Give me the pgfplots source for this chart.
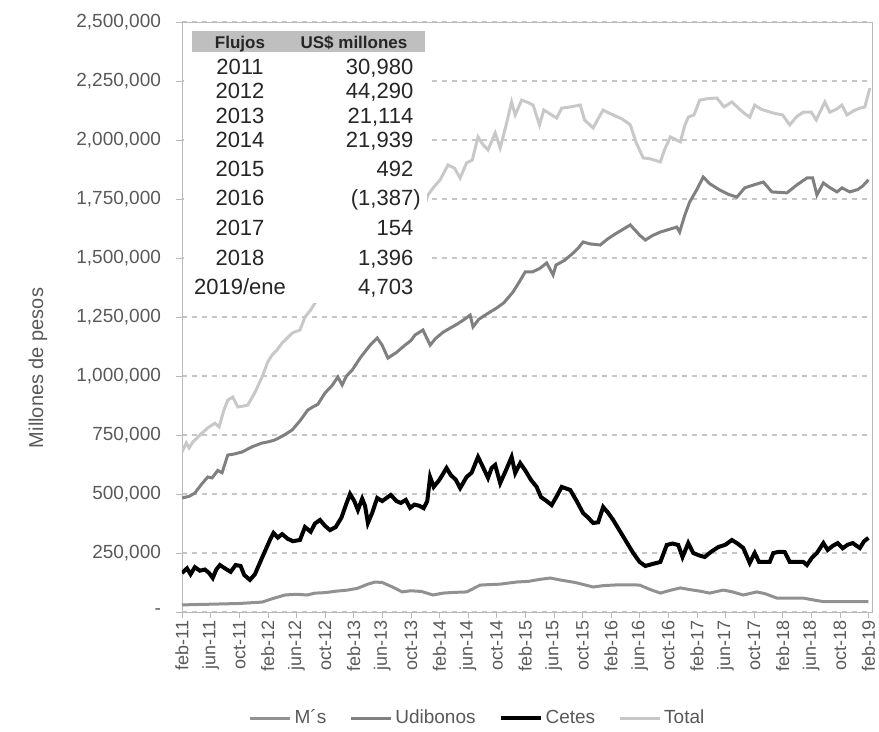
\documentclass[border=0pt]{standalone}
\usepackage{fontspec}
\setmainfont{Liberation Sans}
\usepackage{pgfplots}
\pgfplotsset{compat=1.18}
\definecolor{cms}{RGB}{145,145,145}
\definecolor{cudi}{RGB}{128,128,128}
\definecolor{ctot}{RGB}{200,200,200}
\definecolor{ctick}{RGB}{89,89,89}
\definecolor{chdr}{RGB}{191,191,191}
\definecolor{ctab}{RGB}{38,38,38}
\begin{document}
\begin{tikzpicture}
\begin{axis}[name=ax, scale only axis, width=345pt, height=295pt,
  xmin=0, xmax=96.5, ymin=0, ymax=2500,
  axis line style={draw=gray!55},
  ytick={0,250,...,2500},
  yticklabels={{-},{250,000},{500,000},{750,000},{1,000,000},{1,250,000},{1,500,000},{1,750,000},{2,000,000},{2,250,000},{2,500,000}},
  xtick={0,4,...,96},
  xticklabels={feb-11,jun-11,oct-11,feb-12,jun-12,oct-12,feb-13,jun-13,oct-13,feb-14,jun-14,oct-14,feb-15,jun-15,oct-15,feb-16,jun-16,oct-16,feb-17,jun-17,oct-17,feb-18,jun-18,oct-18,feb-19},
  x tick label style={rotate=90, anchor=east, font=\fontsize{9}{10}\selectfont, text=ctick, inner sep=1pt},
  y tick label style={font=\fontsize{9.5}{11}\selectfont, text=ctick, xshift=-4pt},
  ymajorgrids, grid style={dash pattern=on 2.5pt off 2.5pt, gray!45, line width=0.8pt},
  tick align=outside, tick pos=left, major tick length=3pt, tick style={gray!55},
  legend style={at={(0.429,-0.18)}, anchor=center, legend columns=4, draw=none,
    font=\fontsize{9.5}{11}\selectfont, text=ctick,
    /tikz/every even column/.append style={column sep=10pt},
    nodes={inner xsep=1.5pt}},
  legend image code/.code={\draw[#1] (0pt,0pt) -- (20pt,0pt);},
]
\addplot[cms, line width=1.5pt] coordinates {
(0,30)(4,33)(8,36)(9,38)(11.2,42)(12.5,55)(14.4,72)(16,75)(17.5,72)(18.6,80)(20,82)(21.5,88)(23.2,93)(24.5,100)(26,118)(27,127)(28,125)(29.5,105)(30.8,85)(32,90)(33.5,87)(35.1,72)(36.5,80)(38,83)(39.8,85)(41.7,114)(43,116)(44.5,118)(46.8,127)(48.5,130)(50,138)(51.5,144)(53,135)(55,125)(57.5,106)(59,112)(61,115)(63,115)(64,114)(65.5,95)(66.9,80)(68.3,92)(69.7,102)(71,95)(72.5,88)(73.8,80)(75.7,93)(77,85)(78.5,72)(80.4,85)(81.5,78)(83.2,59)(85,59)(86.9,59)(88.5,50)(89.7,44)(92,44)(96,44)
};
\addlegendentry{M´s}
\addplot[cudi, line width=1.5pt] coordinates {
(0,483)(1,490)(1.8,504)(2.7,540)(3.6,572)(4.2,568)(5,600)(5.6,590)(6.4,665)(7.4,670)(8.4,678)(9.8,700)(11.2,716)(12.2,722)(13,729)(14.2,748)(15.4,771)(16.5,810)(17.6,856)(18.3,869)(19,880)(20,928)(21,960)(21.8,996)(22.4,962)(23,1000)(23.8,1025)(25,1080)(26.3,1130)(27.3,1161)(28,1130)(28.8,1076)(30,1100)(31.2,1131)(32,1150)(32.6,1174)(33.2,1185)(33.7,1195)(34.7,1131)(35.5,1160)(36.5,1185)(37.5,1203)(38.5,1220)(39.5,1240)(40.3,1258)(40.7,1208)(41.5,1240)(42.5,1260)(44,1288)(45,1310)(46.3,1356)(47.2,1400)(48,1441)(49,1441)(50,1455)(51,1479)(51.9,1428)(52.3,1470)(53.5,1490)(54.7,1521)(55.5,1545)(56.1,1568)(57,1560)(58.5,1555)(59.5,1580)(60.5,1600)(61.6,1620)(62.7,1640)(64,1597)(64.8,1576)(65.8,1595)(66.9,1610)(68,1620)(69.2,1631)(69.6,1610)(70.3,1680)(71,1737)(72,1790)(72.9,1843)(73.8,1815)(75.2,1788)(76.4,1770)(77.6,1758)(78.7,1797)(80,1810)(81.3,1822)(82.5,1780)(83.5,1778)(84.6,1776)(86,1810)(87.4,1839)(88.2,1839)(88.8,1767)(89.7,1818)(90.5,1800)(91.6,1780)(92.3,1797)(93.4,1780)(94.5,1790)(95.2,1805)(96,1831)
};
\addlegendentry{Udibonos}
\addplot[black, line width=2pt] coordinates {
(0,165)(0.7,185)(1.2,160)(1.8,190)(2.5,175)(3.2,180)(3.8,165)(4.3,144)(4.8,180)(5.3,199)(6,185)(6.8,170)(7.5,199)(8.2,195)(8.7,157)(9.5,136)(10.2,160)(11.2,230)(12.3,305)(12.8,335)(13.4,315)(14,330)(14.8,310)(15.5,300)(16.5,305)(17.2,360)(18,340)(18.6,375)(19.3,390)(20,365)(20.7,347)(21.5,360)(22.3,400)(23,460)(23.5,500)(24.1,470)(24.6,432)(25.2,480)(25.6,450)(26,377)(26.6,420)(27.3,483)(28,470)(29.2,496)(30,470)(30.6,462)(31.3,475)(31.9,441)(32.5,455)(33.2,450)(33.8,440)(34.3,470)(34.7,572)(35.2,530)(36,560)(37,610)(37.6,580)(38.3,560)(38.9,525)(39.8,572)(40.5,590)(41.4,657)(42,620)(42.8,568)(43.3,610)(43.8,623)(44.5,546)(45.3,600)(46.1,657)(46.6,589)(47.3,631)(48,600)(48.8,560)(49.6,530)(50.2,487)(51,470)(51.7,453)(52.4,490)(53.1,530)(54.3,517)(55.2,470)(56.1,419)(56.8,400)(57.5,377)(58.2,380)(58.9,445)(59.6,420)(60.3,390)(61.5,330)(62.3,290)(63.1,250)(64,212)(64.8,195)(66,205)(66.9,212)(67.8,284)(68.6,290)(69.4,284)(70,233)(70.8,292)(71.5,250)(72.3,240)(73.1,233)(74,255)(75,275)(76,285)(76.9,305)(77.7,290)(78.5,271)(79.4,208)(80.1,250)(80.7,212)(81.5,212)(82.2,212)(82.7,250)(83.5,255)(84.3,254)(85,212)(86,212)(86.9,212)(87.4,199)(88.1,230)(88.8,250)(89.7,292)(90.3,263)(91,280)(91.7,292)(92.4,270)(93.1,285)(93.8,292)(94.8,271)(95.4,300)(96,314)
};
\addlegendentry{Cetes}
\addplot[ctot, line width=1.5pt] coordinates {
(0,678)(0.6,716)(1,695)(1.5,720)(2.2,740)(2.8,758)(3.6,780)(4.6,800)(5.2,784)(5.8,850)(6.4,898)(7.1,911)(7.8,869)(8.5,872)(9.2,877)(10.2,930)(11.2,996)(12,1060)(12.6,1089)(13.3,1110)(14,1140)(14.7,1160)(15.4,1182)(16.5,1195)(17.2,1250)(18,1280)(18.6,1309)(20,1360)(21,1370)(22,1430)(23,1560)(24,1600)(25,1620)(26,1620)(27,1760)(28,1720)(29,1690)(30,1660)(31,1690)(32,1710)(33,1720)(34,1730)(34.4,1767)(35.2,1800)(36.1,1831)(37.2,1894)(38.1,1881)(38.9,1839)(39.8,1903)(40.6,1915)(41.4,2013)(42.1,1980)(42.8,1958)(43.8,2030)(44.5,1966)(45.3,2060)(46.1,2161)(46.6,2106)(47.5,2169)(48.3,2160)(49.1,2148)(50,2064)(50.6,2127)(51.5,2110)(52.4,2093)(53.1,2135)(54.3,2140)(55.7,2148)(56.3,2085)(57.5,2051)(58.2,2090)(58.9,2127)(60,2110)(61.5,2090)(62.7,2064)(63.5,1990)(64.5,1924)(65.5,1920)(66.9,1907)(67.5,1960)(68.3,2013)(69.7,1992)(70.3,2060)(70.8,2097)(71.6,2106)(72.4,2169)(73.5,2175)(74.8,2178)(75.8,2140)(76.9,2161)(78,2130)(78.6,2114)(79.4,2097)(80.1,2148)(81,2130)(82.7,2114)(84,2106)(85,2064)(86,2100)(86.9,2118)(88,2118)(88.7,2085)(89.9,2161)(90.6,2118)(91.5,2130)(92.3,2148)(93,2106)(94,2125)(94.8,2135)(95.5,2140)(96.2,2220)
};
\addlegendentry{Total}
\end{axis}
% table overlay, coordinates in reference pixels
\begin{scope}[shift={(ax.south west)}, xshift=-91pt, yshift=306pt, x=0.5pt, y=-0.5pt]
\fill[white] (184,25) rectangle (427,303);
\fill[chdr] (192,31) rectangle (425,52);
\begin{scope}[every node/.style={anchor=base, text=ctab, inner sep=0pt, font=\fontsize{11}{13}\selectfont}]
\node[font=\bfseries\fontsize{8.5}{10}\selectfont] at (240,49) {Flujos};
\node[font=\bfseries\fontsize{8.5}{10}\selectfont] at (354,49) {US\$ millones};
\node at (240,75) {2011}; \node[anchor=base east] at (421,75) {30,980\phantom{)}};
\node at (240,99) {2012}; \node[anchor=base east] at (421,99) {44,290\phantom{)}};
\node at (240,124) {2013}; \node[anchor=base east] at (421,124) {21,114\phantom{)}};
\node at (240,148) {2014}; \node[anchor=base east] at (421,148) {21,939\phantom{)}};
\node at (240,177) {2015}; \node[anchor=base east] at (421,177) {492\phantom{)}};
\node at (240,206) {2016}; \node[anchor=base east] at (421,206) {(1,387)};
\node at (240,236) {2017}; \node[anchor=base east] at (421,236) {154\phantom{)}};
\node at (240,266) {2018}; \node[anchor=base east] at (421,266) {1,396\phantom{)}};
\node at (240,295) {2019/ene}; \node[anchor=base east] at (421,295) {4,703\phantom{)}};
\end{scope}
\node[rotate=90, text=ctick, font=\fontsize{10}{12}\selectfont] at (38,368) {Millones de pesos};
\path (0,0) coordinate (tl) (879,732) coordinate (br);
\end{scope}
\pgfresetboundingbox
\path[use as bounding box] (tl) rectangle (br);
\end{tikzpicture}
\end{document}
